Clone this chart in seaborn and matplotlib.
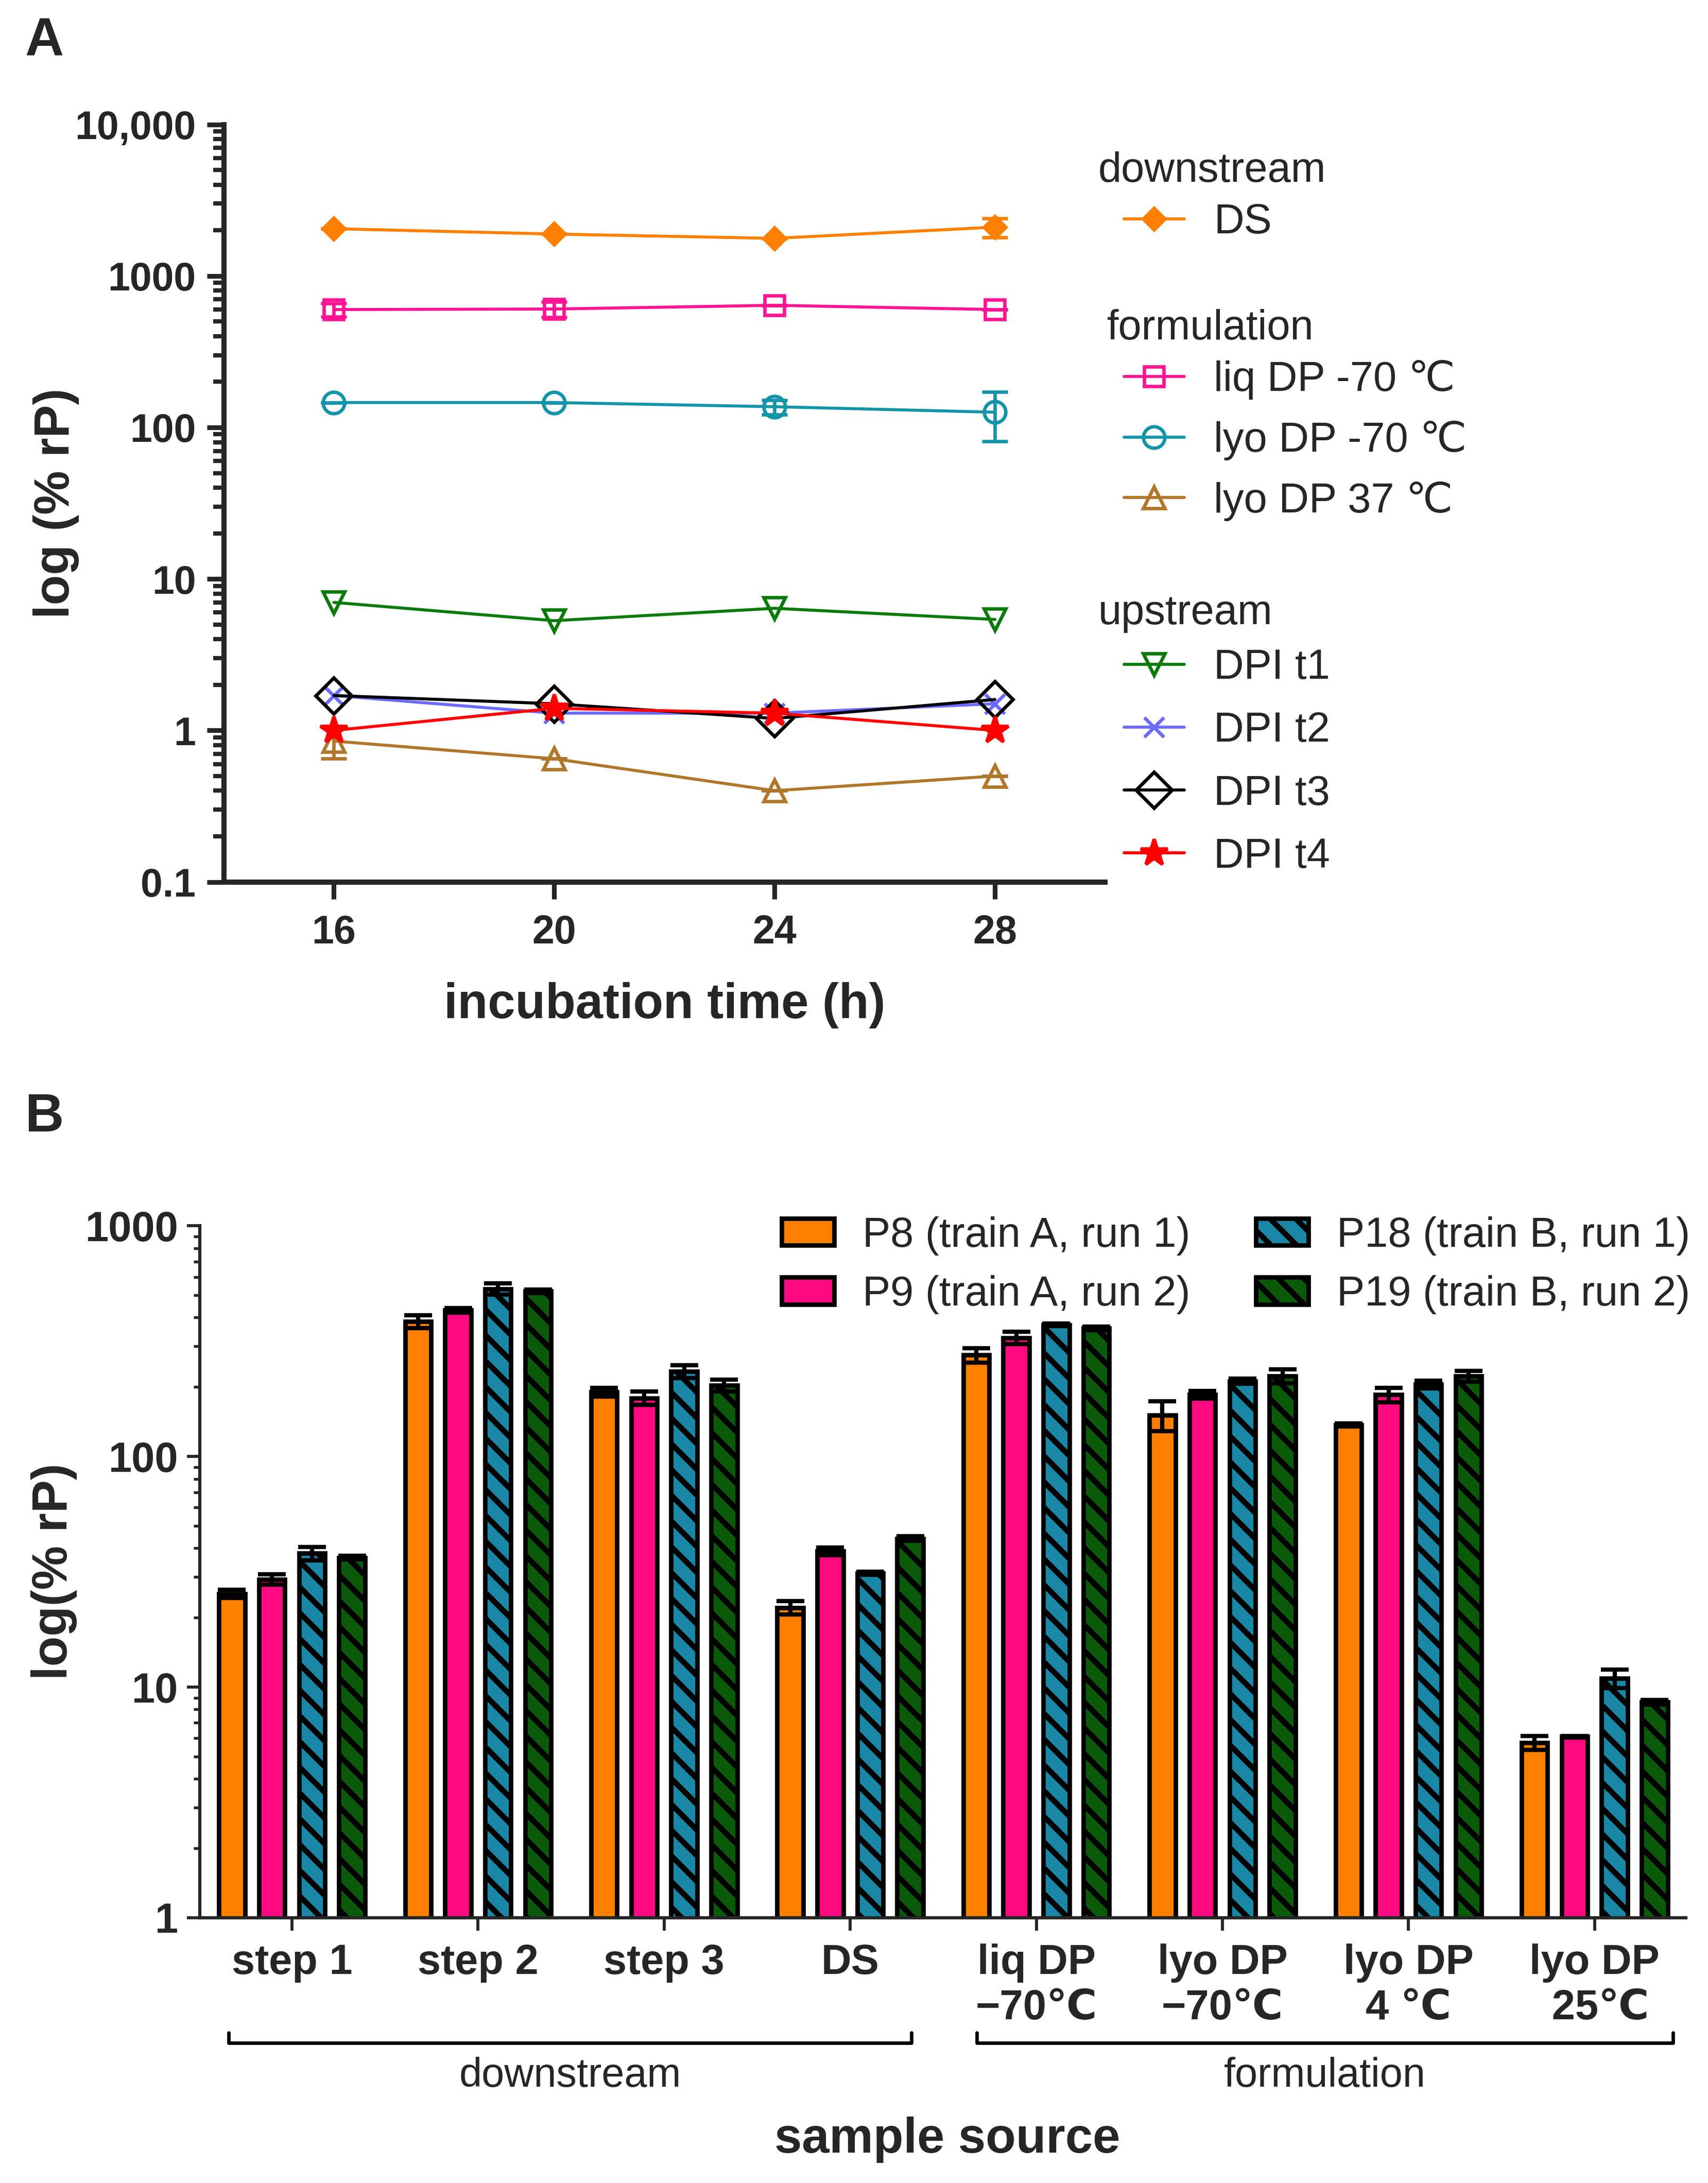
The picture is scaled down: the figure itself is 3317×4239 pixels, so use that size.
import numpy as np
import pandas as pd
import matplotlib
matplotlib.use("Agg")
import matplotlib.pyplot as plt
import matplotlib.patches as mpatches
import seaborn as sns

# ---------------- data: panel A ----------------
hours = [16, 20, 24, 28]
a_names = ["DS", "liq DP -70 \u2103", "lyo DP -70 \u2103", "lyo DP 37 \u2103",
           "DPI t1", "DPI t2", "DPI t3", "DPI t4"]
ds_vals = [2050, 1890, 1770, 2100]
ds_err = [0, 0, 0, 300]
liq70_vals = [600, 605, 640, 600]
liq70_err = [60, 70, 0, 0]
lyo70_vals = [146, 146, 137, 126]
lyo70_err = [0, 0, 15, 45]
lyo37_vals = [0.85, 0.65, 0.40, 0.50]
lyo37_err = [0.2, 0, 0, 0]
t1_vals = [7.0, 5.3, 6.4, 5.4]
t2_vals = [1.7, 1.3, 1.3, 1.5]
t3_vals = [1.7, 1.5, 1.2, 1.6]
t4_vals = [1.0, 1.4, 1.3, 1.0]
a_ytick_vals = [0.1, 1, 10, 100, 1000, 10000]
a_ytick_labels = ["0.1", "1", "10", "100", "1000", "10,000"]

# ---------------- data: panel B ----------------
sources = ["step 1", "step 2", "step 3", "DS",
           "liq DP\n\u221270\u2103", "lyo DP\n\u221270\u2103", "lyo DP\n4 \u2103", "lyo DP\n 25\u2103"]
lots = ["P8 (train A, run 1)", "P9 (train A, run 2)", "P18 (train B, run 1)", "P19 (train B, run 2)"]
p8_vals = [25.4, 385, 190, 22.1, 275, 151, 137, 5.75]
p9_vals = [29.3, 430, 179, 38.8, 327, 185, 185, 6.1]
p18_vals = [38, 532, 234, 31.2, 372, 212, 205, 10.9]
p19_vals = [36.4, 520, 203, 44, 359, 223, 223, 8.6]
p8_err = [1.0, 25, 8, 1.5, 20, 22, 2, 0.4]
p9_err = [1.5, 10, 12, 1.5, 20, 7, 13, 0.05]
p18_err = [2.5, 30, 15, 0.5, 5, 5, 8, 1.0]
p19_err = [0.7, 10, 12, 1.0, 7, 15, 12, 0.2]
b_ytick_vals = [1, 10, 100, 1000]
b_ytick_labels = ["1", "10", "100", "1000"]
groups = ["downstream", "formulation"]

# ---------------- style ----------------
sns.set_theme(style="ticks")
plt.rcParams["font.family"] = ["Liberation Sans", "DejaVu Sans"]
plt.rcParams["hatch.linewidth"] = 2.6

W, H = 3317, 4239
fig = plt.figure(figsize=(W / 300, H / 300), dpi=300)

# ================= Panel A =================
axA = fig.add_axes([0.131, 0.596, 0.516, 0.347])
a_series = [
    (a_names[0], ds_vals, ds_err, "#FF8000", "D", 7, True),
    (a_names[1], liq70_vals, liq70_err, "#FF1493", "s", 9, False),
    (a_names[2], lyo70_vals, lyo70_err, "#1494A8", "o", 10, False),
    (a_names[3], lyo37_vals, lyo37_err, "#B0772A", "^", 10, False),
    (a_names[4], t1_vals, None, "#0B7A0B", "v", 10, False),
    (a_names[5], t2_vals, None, "#6B6BFF", "x", 9, False),
    (a_names[6], t3_vals, None, "#000000", "D", 12, False),
    (a_names[7], t4_vals, None, "#FF0000", "*", 13, True),
]
handlesA = []
for name, vals, err, col, mk, ms, filled in a_series:
    sns.lineplot(x=hours, y=vals, ax=axA, color=col, marker=mk, markersize=ms,
                 markerfacecolor=(col if filled else "none"), markeredgecolor=col,
                 markeredgewidth=1.6, linewidth=1.4, legend=False, zorder=3)
    handlesA.append(axA.lines[-1])
    if err is not None and any(err):
        axA.errorbar(hours, vals, yerr=err, fmt="none", ecolor=col, elinewidth=1.6,
                     capsize=6, capthick=1.6, zorder=3)

axA.set_yscale("log")
axA.set_xlim(14, 30)
axA.set_ylim(0.1, 10000)
axA.set_xticks(hours)
axA.set_xticklabels([str(h) for h in hours])
axA.set_yticks(a_ytick_vals)
axA.set_yticklabels(a_ytick_labels)
axA.yaxis.set_minor_locator(matplotlib.ticker.LogLocator(base=10, subs=np.arange(2, 10), numticks=20))
axA.yaxis.set_minor_formatter(matplotlib.ticker.NullFormatter())
for s in ["top", "right"]:
    axA.spines[s].set_visible(False)
for s in ["left", "bottom"]:
    axA.spines[s].set_linewidth(2.4)
axA.tick_params(axis="both", which="major", length=8, width=2.2, labelsize=18.5, pad=5)
axA.tick_params(axis="x", which="major", pad=7)
axA.tick_params(axis="y", which="minor", length=5, width=2.0)
for lab in axA.get_xticklabels() + axA.get_yticklabels():
    lab.set_fontweight("bold")
axA.set_xlabel("incubation time (h)", fontsize=23, fontweight="bold", va="center")
axA.set_ylabel("log (% rP)", fontsize=23, fontweight="bold", va="center")
axA.xaxis.set_label_coords(0.5, -0.163)
axA.yaxis.set_label_coords(-0.19, 0.5)

# legends panel A (grouped)
fs_leg = 19.5
fig.text(0.643, 0.9217, "downstream", fontsize=fs_leg, va="center", ha="left")
fig.text(0.648, 0.8495, "formulation", fontsize=fs_leg, va="center", ha="left")
fig.text(0.643, 0.7190, "upstream", fontsize=fs_leg, va="center", ha="left")
common = dict(frameon=False, fontsize=fs_leg, handlelength=1.45, handletextpad=0.7,
              borderpad=0, borderaxespad=0, loc="upper left")
lg1 = fig.legend(handles=handlesA[0:1], labels=a_names[0:1],
                 bbox_to_anchor=(0.658, 0.907), labelspacing=0.3, **common)
lg2 = fig.legend(handles=handlesA[1:4], labels=a_names[1:4],
                 bbox_to_anchor=(0.658, 0.835), labelspacing=0.50, **common)
lg3 = fig.legend(handles=handlesA[4:8], labels=a_names[4:8],
                 bbox_to_anchor=(0.658, 0.703), labelspacing=0.57, **common)

fig.text(0.026, 0.981, "A", fontsize=25, fontweight="bold", ha="center", va="center")

# ================= Panel B =================
axB = fig.add_axes([0.117, 0.1215, 0.870, 0.3170])
vals_b = [p8_vals, p9_vals, p18_vals, p19_vals]
errs_b = [p8_err, p9_err, p18_err, p19_err]
df = pd.DataFrame({
    "source": sources * 4,
    "lot": np.repeat(lots, len(sources)),
    "value": np.concatenate(vals_b),
})
colsB = ["#FF8000", "#FF0A80", "#1B87A6", "#0A5A0A"]
sns.barplot(data=df, x="source", y="value", hue="lot", order=sources, hue_order=lots,
            palette=colsB, width=0.86, gap=0.35, edgecolor="black", linewidth=2.1,
            errorbar=None, ax=axB, legend=False, saturation=1)
axB.set_yscale("log")
hatches = [None, None, "\\\\", "\\\\"]
bar_conts = list(axB.containers)
for ci, cont in enumerate(bar_conts):
    for bi, bar in enumerate(cont):
        if hatches[ci]:
            bar.set_hatch(hatches[ci])
        top = bar.get_y() + bar.get_height()
        if bar.get_y() <= 0:
            # keep the bar's own top; start it just below the visible axis floor
            bar.set_y(0.5)
            bar.set_height(top - 0.5)
        xc = bar.get_x() + bar.get_width() / 2
        axB.errorbar([xc], [top], yerr=[errs_b[ci][bi]], fmt="none", ecolor="black",
                     elinewidth=2.0, capsize=6.5, capthick=2.0, zorder=5)

axB.set_ylim(1, 1000)
axB.set_xlim(-0.495, 7.49)
axB.set_yticks(b_ytick_vals)
axB.set_yticklabels(b_ytick_labels)
axB.yaxis.set_minor_locator(matplotlib.ticker.LogLocator(base=10, subs=np.arange(2, 10), numticks=20))
axB.yaxis.set_minor_formatter(matplotlib.ticker.NullFormatter())
for s in ["top", "right"]:
    axB.spines[s].set_visible(False)
for s in ["left", "bottom"]:
    axB.spines[s].set_linewidth(1.5)
    axB.spines[s].set_zorder(6)
axB.tick_params(axis="both", which="major", length=6, width=1.4, labelsize=19.5, pad=4)
axB.tick_params(axis="x", which="major", pad=6)
axB.tick_params(axis="y", which="minor", length=3, width=1.3)
for lab in axB.get_xticklabels() + axB.get_yticklabels():
    lab.set_fontweight("bold")
axB.set_xlabel("sample source", fontsize=23, fontweight="bold", va="center")
axB.set_ylabel("log(% rP)", fontsize=23, fontweight="bold", va="center")
axB.xaxis.set_label_coords(0.503, -0.321)
axB.yaxis.set_label_coords(-0.098, 0.5)

# group brackets
trans = matplotlib.transforms.blended_transform_factory(axB.transData, axB.transAxes)
brackets = [(-0.34, 3.33), (3.68, 7.42)]
for (x0, x1), g in zip(brackets, groups):
    axB.plot([x0, x0, x1, x1], [-0.166, -0.181, -0.181, -0.166], color="black",
             lw=1.6, transform=trans, clip_on=False)
    axB.text((x0 + x1) / 2, -0.229, g, fontsize=19, ha="center", va="center", transform=trans)

legB_handles = [mpatches.Patch(facecolor=c, edgecolor="black", linewidth=2.1, hatch=h)
                for c, h in zip(colsB, hatches)]
axB.legend(handles=legB_handles, labels=lots, ncol=2, loc="upper right",
           bbox_to_anchor=(1.017, 1.044), frameon=False, fontsize=19.5,
           handlelength=1.26, handleheight=0.62, handletextpad=0.68,
           columnspacing=1.56, labelspacing=0.47, borderpad=0)

fig.text(0.026, 0.488, "B", fontsize=25, fontweight="bold", ha="center", va="center")

fig.savefig("out.png", dpi=300)
